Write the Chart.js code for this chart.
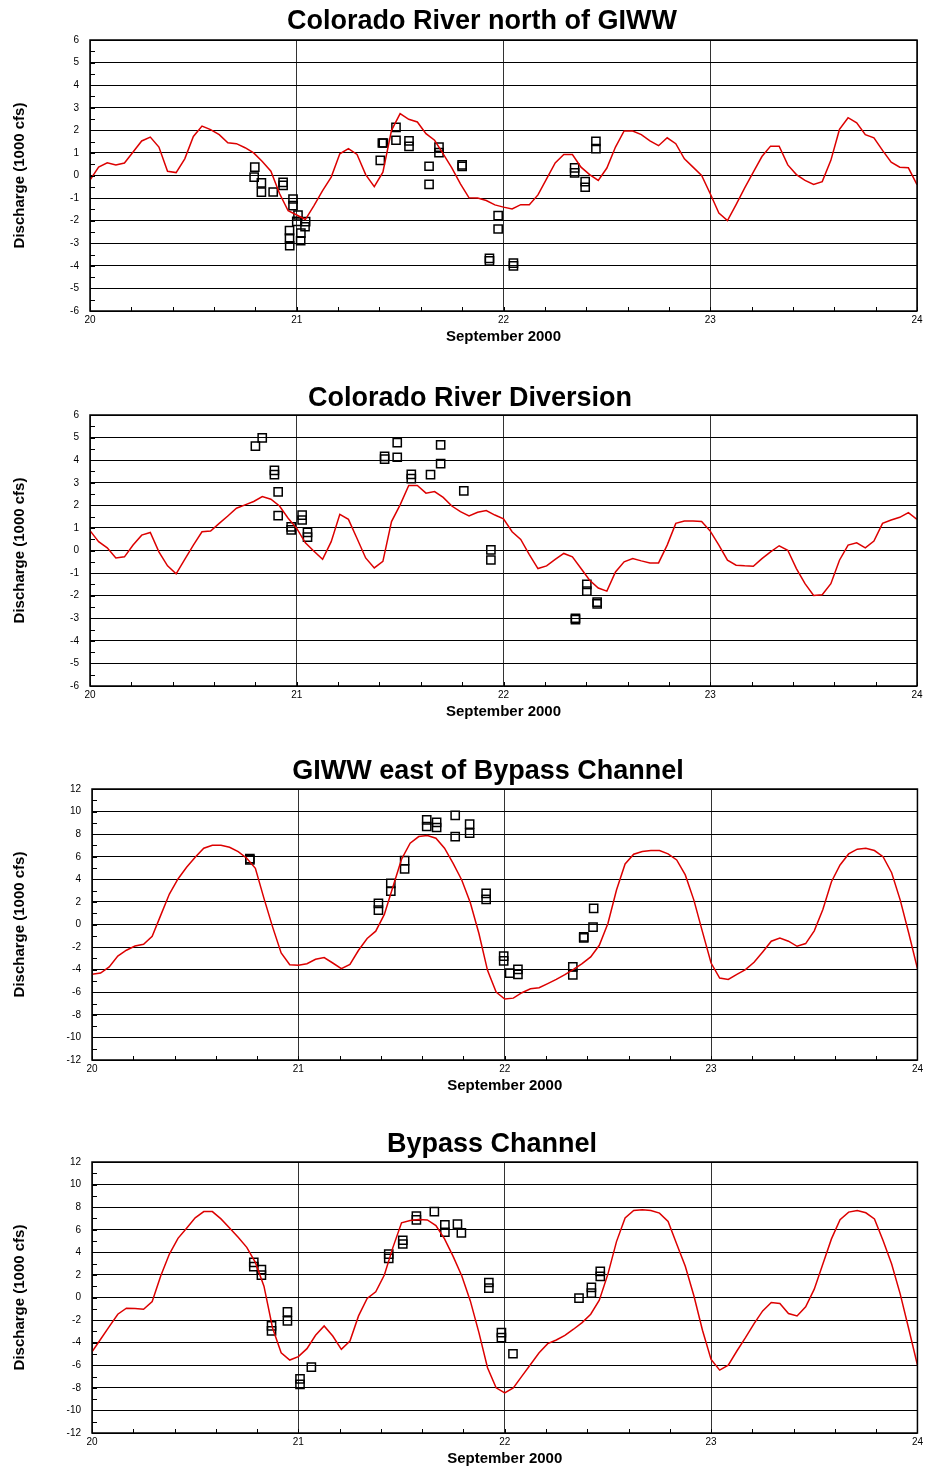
<!DOCTYPE html>
<html>
<head>
<meta charset="utf-8">
<script src="https://cdn.jsdelivr.net/npm/chart.js@4.4.1/dist/chart.umd.min.js"></script>
<style>
body{margin:0;background:#fff;width:926px;height:1468px;overflow:hidden;position:relative;}
.panel{position:absolute;left:0;width:926px;height:346px;}
</style>
</head>
<body>
<div class="panel" style="top:0px"><canvas id="grafica1" width="926" height="346"></canvas></div>
<div class="panel" style="top:375px"><canvas id="grafica2" width="926" height="346"></canvas></div>
<div class="panel" style="top:749px"><canvas id="grafica3" width="926" height="346"></canvas></div>
<div class="panel" style="top:1122px"><canvas id="grafica4" width="926" height="346"></canvas></div>
<script>
// hourly model output, Sept 20 00:00 to Sept 24 00:00 (1000 cfs)
const startDay = 20;
const dayTicks = [20, 21, 22, 23, 24];

const northModel = [-0.2, 0.37, 0.56, 0.47, 0.55, 1.04, 1.53, 1.70, 1.26, 0.19, 0.13, 0.74, 1.73, 2.19, 2.03, 1.81, 1.45, 1.41, 1.23, 1.0, 0.62, 0.19, -0.8, -1.56, -1.75, -1.95, -1.33, -0.67, -0.07, 0.96, 1.19, 0.93, 0.04, -0.49, 0.15, 2.0, 2.74, 2.49, 2.37, 1.85, 1.56, 0.96, 0.34, -0.37, -0.99, -1.0, -1.11, -1.3,
  -1.4, -1.48, -1.29, -1.29, -0.86, -0.15, 0.56, 0.93, 0.93, 0.37, 0.04, -0.22, 0.33, 1.26, 1.97, 1.97, 1.81, 1.53, 1.32, 1.67, 1.41, 0.74, 0.37, 0.0, -0.81, -1.66, -2.0, -1.29, -0.55, 0.15, 0.84, 1.3, 1.3, 0.47, 0.04, -0.22, -0.4, -0.27, 0.67, 2.04, 2.56, 2.33, 1.81, 1.67, 1.11, 0.59, 0.37, 0.34, -0.41];
const northObsT = [20.797, 20.794, 20.829, 20.829, 20.886, 20.934, 20.934, 20.982, 20.982, 21.006, 21.0, 21.043, 21.04, 21.02, 21.019, 20.965, 20.965, 20.966, 21.414, 21.419, 21.404, 21.48, 21.48, 21.543, 21.543, 21.64, 21.64, 21.688, 21.688, 21.8, 21.8, 21.932, 21.932, 21.974, 21.974, 22.048, 22.048, 22.344, 22.344, 22.395, 22.395, 22.447, 22.447];
const northObsQ = [0.37, -0.07, -0.33, -0.74, -0.73, -0.3, -0.44, -1.04, -1.33, -1.75, -2.03, -2.04, -2.27, -2.55, -2.89, -2.44, -2.77, -3.11, 1.44, 1.44, 0.67, 2.13, 1.56, 1.53, 1.29, 0.41, -0.39, 1.26, 1.01, 0.47, 0.4, -3.67, -3.78, -1.78, -2.37, -3.88, -4.0, 0.34, 0.12, -0.27, -0.52, 1.51, 1.19];

const diversionModel = [0.88, 0.39, 0.12, -0.33, -0.28, 0.24, 0.68, 0.8, -0.06, -0.68, -1.03, -0.39, 0.24, 0.83, 0.86, 1.2, 1.53, 1.87, 2.02, 2.17, 2.39, 2.27, 1.97, 1.43, 0.98, 0.34, -0.03, -0.39, 0.39, 1.6, 1.38, 0.53, -0.33, -0.77, -0.48, 1.28, 2.02, 2.88, 2.88, 2.54, 2.61, 2.35, 1.97, 1.72, 1.53, 1.69, 1.77, 1.57,
  1.4, 0.83, 0.49, -0.18, -0.8, -0.68, -0.39, -0.13, -0.28, -0.8, -1.32, -1.66, -1.8, -0.95, -0.5, -0.36, -0.46, -0.55, -0.55, 0.24, 1.2, 1.31, 1.31, 1.28, 0.86, 0.24, -0.43, -0.65, -0.68, -0.7, -0.36, -0.06, 0.21, 0.01, -0.8, -1.47, -1.99, -1.96, -1.47, -0.43, 0.24, 0.34, 0.12, 0.42, 1.2, 1.35, 1.47, 1.68, 1.38];
const diversionObsT = [20.80, 20.833, 20.892, 20.892, 20.91, 20.91, 20.973, 20.973, 21.026, 21.026, 21.052, 21.052, 21.425, 21.425, 21.486, 21.486, 21.554, 21.554, 21.647, 21.696, 21.696, 21.808, 21.939, 21.939, 22.403, 22.403, 22.453, 22.453, 22.348, 22.348];
const diversionObsQ = [4.62, 4.99, 3.55, 3.36, 2.6, 1.54, 1.05, 0.91, 1.57, 1.35, 0.8, 0.59, 4.17, 4.05, 4.78, 4.13, 3.37, 3.18, 3.36, 4.68, 3.85, 2.64, 0.03, -0.42, -1.5, -1.8, -2.29, -2.36, -3.0, -3.06];

const giwwModel = [-4.41, -4.3, -3.76, -2.79, -2.28, -1.9, -1.75, -1.04, 0.83, 2.7, 4.03, 5.07, 5.96, 6.76, 7.02, 7.02, 6.84, 6.46, 5.87, 4.98, 2.31, -0.21, -2.52, -3.56, -3.61, -3.47, -3.08, -2.93, -3.41, -3.91, -3.53, -2.28, -1.24, -0.59, 0.89, 3.35, 5.78, 7.2, 7.79, 7.88, 7.64, 6.76, 5.42, 3.94, 1.93, -0.8, -4.06, -5.99,
  -6.6, -6.52, -6.04, -5.69, -5.6, -5.24, -4.86, -4.44, -3.97, -3.47, -2.87, -1.84, 0.09, 3.05, 5.36, 6.22, 6.46, 6.55, 6.55, 6.25, 5.72, 4.39, 2.16, -0.65, -3.41, -4.74, -4.86, -4.41, -4.0, -3.35, -2.43, -1.48, -1.19, -1.48, -1.93, -1.69, -0.56, 1.33, 3.79, 5.27, 6.25, 6.67, 6.76, 6.55, 6.01, 4.59, 2.16, -0.8, -3.91];
const giwwObsT = [20.765, 20.765, 21.388, 21.388, 21.448, 21.448, 21.515, 21.515, 21.622, 21.622, 21.67, 21.67, 21.76, 21.76, 21.83, 21.83, 21.91, 21.91, 21.995, 21.995, 22.024, 22.064, 22.064, 22.33, 22.33, 22.383, 22.383, 22.428, 22.431];
const giwwObsQ = [5.84, 5.72, 1.87, 1.27, 3.64, 2.96, 5.66, 4.92, 9.27, 8.68, 9.04, 8.59, 9.66, 7.79, 8.89, 8.09, 2.76, 2.22, -2.8, -3.23, -4.3, -3.97, -4.41, -3.76, -4.47, -1.1, -1.19, -0.24, 1.42];

const bypassModel = [-4.8, -3.7, -2.58, -1.48, -0.95, -0.98, -1.04, -0.36, 1.93, 3.85, 5.24, 6.13, 7.05, 7.61, 7.61, 6.96, 6.16, 5.33, 4.44, 3.11, 1.0, -2.7, -4.89, -5.54, -5.24, -4.53, -3.35, -2.52, -3.41, -4.59, -3.85, -1.63, -0.09, 0.5, 1.99, 4.44, 6.61, 6.81, 6.9, 6.87, 6.37, 5.19, 3.64, 1.93, -0.3, -3.11, -6.22, -8.0,
  -8.44, -8.0, -6.96, -5.93, -4.89, -4.09, -3.76, -3.35, -2.81, -2.22, -1.48, -0.24, 2.07, 4.95, 7.05, 7.7, 7.76, 7.7, 7.47, 6.73, 4.74, 2.76, 0.15, -2.9, -5.48, -6.43, -5.99, -4.74, -3.56, -2.31, -1.19, -0.44, -0.53, -1.42, -1.63, -0.83, 0.74, 2.96, 5.19, 6.9, 7.56, 7.7, 7.5, 6.96, 5.04, 2.96, 0.3, -2.81, -5.99];
const bypassObsT = [20.784, 20.784, 20.821, 20.821, 20.87, 20.87, 20.947, 20.947, 21.008, 21.008, 21.063, 21.438, 21.438, 21.506, 21.506, 21.572, 21.572, 21.659, 21.71, 21.71, 21.771, 21.79, 21.923, 21.923, 21.984, 21.984, 22.04, 22.36, 22.42, 22.42, 22.463, 22.463];
const bypassObsQ = [3.11, 2.73, 2.46, 1.99, -2.52, -2.96, -1.27, -2.07, -7.2, -7.7, -6.16, 3.85, 3.47, 5.07, 4.74, 7.2, 6.87, 7.61, 6.43, 5.78, 6.49, 5.72, 1.33, 0.83, -3.11, -3.56, -4.98, -0.06, 0.89, 0.39, 2.31, 1.87];

const FONT = '"Liberation Sans", Arial, sans-serif';

// title + inward minor ticks + frame
const panelDecor = {
  id: 'panelDecor',
  afterDraw(chart, args, opts) {
    const ctx = chart.ctx, a = chart.chartArea;
    const xs = chart.scales.x, ys = chart.scales.y;
    ctx.save();
    ctx.strokeStyle = '#000';
    ctx.lineWidth = 1;
    ctx.beginPath();
    for (let v = ys.min; v <= ys.max; v += opts.yMinor) {
      const py = Math.round(ys.getPixelForValue(v)) + 0.5;
      ctx.moveTo(a.left, py);
      ctx.lineTo(a.left + 5, py);
    }
    for (let d = 0; d <= 20; d++) {
      const px = Math.round(xs.getPixelForValue(xs.min + d * 0.2)) + 0.5;
      ctx.moveTo(px, a.bottom);
      ctx.lineTo(px, a.bottom - 4);
    }
    ctx.stroke();
    ctx.lineWidth = 1.5;
    ctx.strokeRect(a.left, a.top, a.right - a.left, a.bottom - a.top);
    ctx.font = 'bold 27px ' + FONT;
    ctx.textAlign = 'center';
    ctx.textBaseline = 'middle';
    ctx.fillStyle = '#000';
    ctx.fillText(opts.text, opts.x, opts.y);
    ctx.restore();
  }
};

function grafica(id, title, titleX, titleY, model, obsT, obsQ, yMin, yMax, yStep, left, right) {
  const line = model.map((q, h) => ({x: startDay + h / 24, y: q}));
  const pts = obsT.map((t, i) => ({x: t, y: obsQ[i]}));
  new Chart(document.getElementById(id), {
    type: 'scatter',
    data: {
      datasets: [{
        type: 'line',
        data: line,
        borderColor: 'rgb(220,0,0)',
        borderWidth: 1.5,
        pointRadius: 0,
        tension: 0
      }, {
        data: pts,
        pointStyle: 'rect',
        pointRadius: 5.8,
        borderColor: '#000',
        borderWidth: 1.5,
        backgroundColor: 'rgba(0,0,0,0)'
      }]
    },
    options: {
      responsive: false,
      animation: false,
      layout: {padding: {top: 40, right: right, left: 0, bottom: 0}},
      plugins: {
        legend: {display: false},
        tooltip: {enabled: false},
        panelDecor: {text: title, x: titleX, y: titleY, yMinor: yStep / 2}
      },
      scales: {
        x: {
          type: 'linear', min: 20, max: 24,
          afterBuildTicks: s => { s.ticks = dayTicks.map(v => ({value: v})); },
          afterFit: s => { s.height = 35; },
          grid: {color: '#333', lineWidth: 1, drawTicks: false},
          border: {display: false},
          ticks: {font: {family: FONT, size: 10}, color: '#000', padding: 3, maxRotation: 0},
          title: {display: true, text: 'September 2000', font: {family: FONT, size: 15, weight: 'bold'}, color: '#000', padding: {top: 0, bottom: 0}}
        },
        y: {
          min: yMin, max: yMax,
          ticks: {stepSize: yStep, font: {family: FONT, size: 10}, color: '#000', padding: 11},
          afterFit: s => { s.width = left; },
          grid: {color: '#000', lineWidth: 1, drawTicks: false},
          border: {display: false},
          title: {display: true, text: 'Discharge (1000 cfs)', font: {family: FONT, size: 15, weight: 'bold'}, color: '#000', padding: {top: 11, bottom: 0}}
        }
      }
    },
    plugins: [panelDecor]
  });
}

grafica('grafica1', 'Colorado River north of GIWW', 482, 22, northModel, northObsT, northObsQ, -6, 6, 1, 90, 9);
grafica('grafica2', 'Colorado River Diversion', 470, 24, diversionModel, diversionObsT, diversionObsQ, -6, 6, 1, 90, 9);
grafica('grafica3', 'GIWW east of Bypass Channel', 488, 23, giwwModel, giwwObsT, giwwObsQ, -12, 12, 2, 92, 7);
grafica('grafica4', 'Bypass Channel', 492, 23, bypassModel, bypassObsT, bypassObsQ, -12, 12, 2, 92, 7);
</script>
</body>
</html>
